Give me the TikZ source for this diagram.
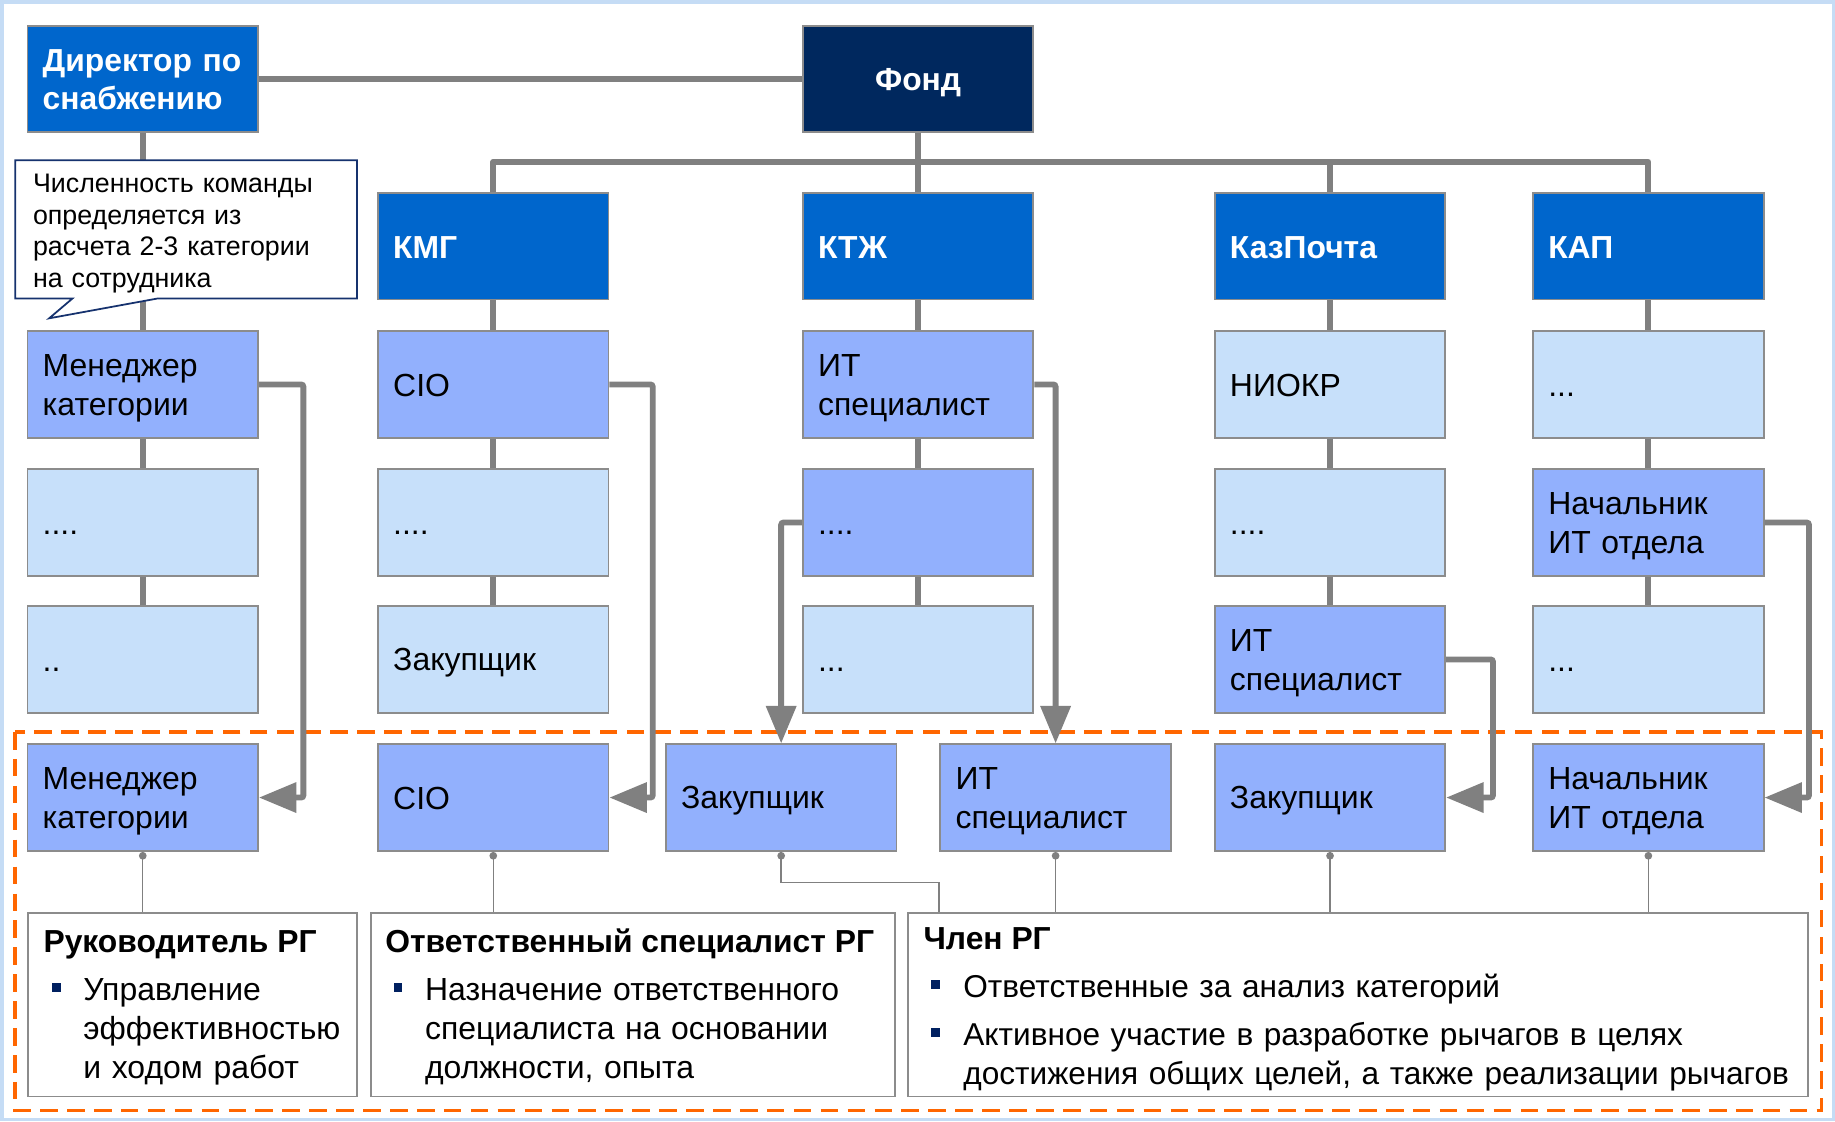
\documentclass[tikz,border=0pt]{standalone}
\usepackage{fontspec}
\setmainfont{Liberation Sans}
\usetikzlibrary{arrows.meta,calc}
\definecolor{lgray}{RGB}{128,128,128}
\definecolor{bordgray}{RGB}{140,140,140}
\definecolor{navy}{RGB}{0,40,94}
\definecolor{hblue}{RGB}{0,102,204}
\definecolor{mblue}{RGB}{146,176,253}
\definecolor{lblue}{RGB}{199,224,250}
\definecolor{orng}{RGB}{255,102,0}
\definecolor{frameblue}{RGB}{197,220,245}
\definecolor{callnavy}{RGB}{22,50,110}
\definecolor{bulnavy}{RGB}{0,32,96}
\newcommand{\bstrut}{\rule[-5pt]{0pt}{30pt}}
\begin{document}
\begin{tikzpicture}[x=1pt,y=-1pt,
  box/.style={draw=bordgray, line width=1.5pt, minimum width=197pt, minimum height=91pt,
    text width=171pt, inner xsep=13pt, inner ysep=0pt, align=left,
    font=\fontsize{27.3}{33}\selectfont,
    execute at begin node=\bstrut, execute at end node=\bstrut},
  hdr/.style={box, fill=hblue, text=white, font=\fontsize{27.2}{32}\selectfont\bfseries},
  med/.style={box, fill=mblue},
  lite/.style={box, fill=lblue},
  conn/.style={draw=lgray, line width=5pt},
  arr/.style={conn, rounded corners=2pt, -{Triangle[length=32pt,width=25pt]}},
  thinc/.style={draw=lgray, line width=1.2pt},
  desc/.style={draw=bordgray, line width=1.5pt, fill=white, inner sep=0pt, minimum height=157pt},
  ttl/.style={inner sep=0pt, font=\fontsize{27.2}{32}\selectfont\bfseries},
  btxt/.style={inner sep=0pt, align=left, font=\fontsize{27.3}{33.5}\selectfont},
  bul/.style={fill=bulnavy, minimum size=7.5pt, inner sep=0pt},
]
\useasboundingbox (0,0) rectangle (1568,958);
\draw[frameblue, line width=3pt] (1.5,1.5) rectangle (1566.5,956.5);
\draw[orng, line width=3pt, dash pattern=on 15pt off 8pt] (12.8,625.5) rectangle (1556.6,949);

% top row
\node[hdr] (dir) at (122,67.5) {Директор по\\снабжению};
\node[hdr, fill=navy, align=center] (fond) at (784.5,67.5) {Фонд};
% row 1
\node[hdr] (kmg) at (421.5,210.5) {КМГ};
\node[hdr] (ktzh) at (784.5,210.5) {КТЖ};
\node[hdr] (kaz) at (1136.5,210.5) {КазПочта};
\node[hdr] (kap) at (1408.5,210.5) {КАП};
% column 1
\node[med] (c1r2) at (122,328.5) {Менеджер\\категории};
\node[lite] (c1r3) at (122,446.5) {....};
\node[lite] (c1r4) at (122,563.5) {..};
% column 2
\node[med] (c2r2) at (421.5,328.5) {CIO};
\node[lite] (c2r3) at (421.5,446.5) {....};
\node[lite] (c2r4) at (421.5,563.5) {Закупщик};
% column 3
\node[med] (c3r2) at (784.5,328.5) {ИТ\\специалист};
\node[med] (c3r3) at (784.5,446.5) {....};
\node[lite] (c3r4) at (784.5,563.5) {...};
% column 4
\node[lite] (c4r2) at (1136.5,328.5) {НИОКР};
\node[lite] (c4r3) at (1136.5,446.5) {....};
\node[med] (c4r4) at (1136.5,563.5) {ИТ\\специалист};
% column 5
\node[lite] (c5r2) at (1408.5,328.5) {...};
\node[med] (c5r3) at (1408.5,446.5) {Начальник\\ИТ отдела};
\node[lite] (c5r4) at (1408.5,563.5) {...};
% bottom row
\node[med] (b1) at (122,681.5) {Менеджер\\категории};
\node[med] (b2) at (421.5,681.5) {CIO};
\node[med] (b3) at (667.5,681.5) {Закупщик};
\node[med] (b4) at (902,681.5) {ИТ\\специалист};
\node[med] (b5) at (1136.5,681.5) {Закупщик};
\node[med] (b6) at (1408.5,681.5) {Начальник\\ИТ отдела};

% hierarchy connectors
\draw[conn] (dir.east) -- (fond.west);
\draw[conn] (dir.south) -- (c1r2.north);
\draw[conn] (fond.south) -- (ktzh.north);
\draw[conn, line join=round] (kmg.north) -- ++(0,-26) -| (kap.north);
\draw[conn] (kaz.north) -- ++(0,-26);
\draw[conn] (c1r2.south) -- (c1r3.north);
\draw[conn] (c1r3.south) -- (c1r4.north);
\draw[conn] (kmg.south) -- (c2r2.north);
\draw[conn] (c2r2.south) -- (c2r3.north);
\draw[conn] (c2r3.south) -- (c2r4.north);
\draw[conn] (ktzh.south) -- (c3r2.north);
\draw[conn] (c3r2.south) -- (c3r3.north);
\draw[conn] (c3r3.south) -- (c3r4.north);
\draw[conn] (kaz.south) -- (c4r2.north);
\draw[conn] (c4r2.south) -- (c4r3.north);
\draw[conn] (c4r3.south) -- (c4r4.north);
\draw[conn] (kap.south) -- (c5r2.north);
\draw[conn] (c5r2.south) -- (c5r3.north);
\draw[conn] (c5r3.south) -- (c5r4.north);

% arrows into the working group
\draw[arr] (c1r2.east) -- ++(38,0) |- (b1.east);
\draw[arr] (c2r2.east) -- ++(37,0) |- (b2.east);
\draw[arr] (c3r2.east) -| (b4.north);
\draw[arr] (c3r3.west) -| (b3.north);
\draw[arr] (c4r4.east) -- ++(40,0) |- (b5.east);
\draw[arr] (c5r3.east) -- ++(38,0) |- (b6.east);

% callout
\draw[callnavy, fill=white, line width=1.5pt, line join=miter]
  (13,137) -- (305,137) -- (305,255) -- (135,255) -- (42,272) -- (62,255) -- (13,255) -- cycle;
\node[inner sep=0pt, anchor=base west, align=left, text width=272pt, font=\fontsize{22.9}{27}\selectfont] (callout) at (28,164.5)
  {Численность команды\\определяется из\\расчета 2-3 категории\\на сотрудника};

% description boxes
\node[desc, minimum width=281pt] (dA) at (164.5,858.5) {};
\node[desc, minimum width=448pt] (dB) at (541,858.5) {};
\node[desc, minimum width=769pt] (dC) at (1160.5,858.5) {};

\node[ttl, anchor=base west] (tA) at (37,814) {Руководитель РГ};
\node[bul] (uA) at (48,844) {};
\node[btxt, anchor=base west, text width=228pt] (xA) at (71,854.5) {Управление\\эффективностью\\и ходом работ};

\node[ttl, anchor=base west] (tB) at (329,814) {Ответственный специалист РГ};
\node[bul] (uB) at (340,844) {};
\node[btxt, anchor=base west, text width=395pt] (xB) at (363,854.5) {Назначение ответственного\\специалиста на основании\\должности, опыта};

\node[ttl, anchor=base west] (tC) at (789,811.5) {Член РГ};
\node[bul] (uC1) at (799.5,841.5) {};
\node[btxt, anchor=base west, text width=715pt, font=\fontsize{27}{33.5}\selectfont] (xC1) at (823,852.5) {Ответственные за анализ категорий};
\node[bul] (uC2) at (799.5,882) {};
\node[btxt, anchor=base west, text width=715pt, font=\fontsize{27}{33.5}\selectfont] (xC2) at (823,893.5) {Активное участие в разработке рычагов в целях\\достижения общих целей, а также реализации рычагов};

% thin links to roles
\draw[thinc] (b1.south) -- (b1.south |- dA.north);
\draw[thinc] (b2.south) -- (b2.south |- dA.north);
\draw[thinc] (b3.south) |- ($(dC.north west)+(27,-25)$) -- ($(dC.north west)+(27,0)$);
\draw[thinc] (b4.south) -- (b4.south |- dC.north);
\draw[thinc] (b5.south) -- (b5.south |- dC.north);
\draw[thinc] (b6.south) -- (b6.south |- dC.north);
\foreach \n in {b1,b2,b3,b4,b5,b6} \fill[lgray] ($(\n.south)+(0,3.5)$) circle (3.3pt);
\end{tikzpicture}
\end{document}
